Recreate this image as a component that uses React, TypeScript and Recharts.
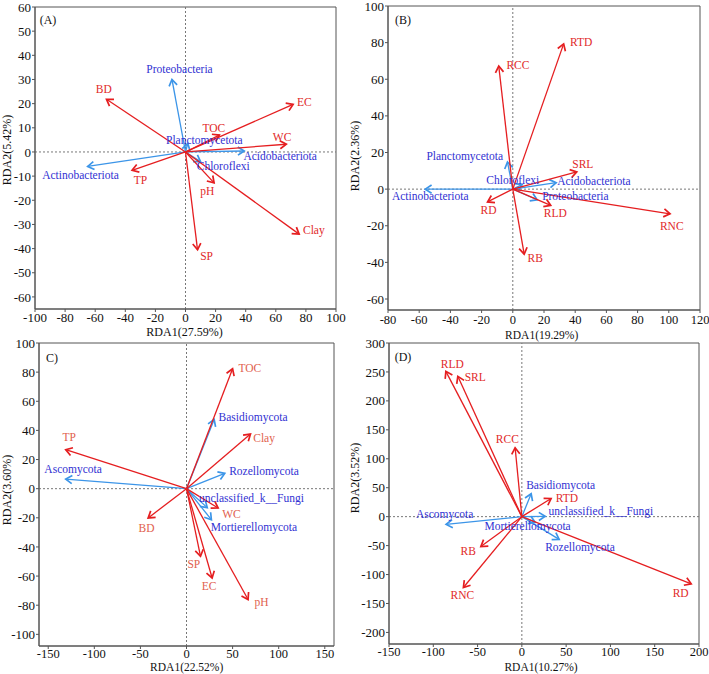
import React from 'react';
import { ScatterChart, Scatter, XAxis, YAxis, ReferenceLine, ReferenceArea } from 'recharts';

type Vec = { name: string; x: number; y: number };

const FONT = '"Liberation Serif", "Times New Roman", serif';
const RED = '#e51e20';
const BLUE = '#3c95e8';
const BLUE_TEXT = '#3131d2';
const RED_TEXT = '#e12a2a';
const SALMON_TEXT = '#e1614e';

// ---------- Panel A ----------
const envA: Vec[] = [
  { name: 'BD', x: -52.5, y: 21.8 },
  { name: 'EC', x: 71.5, y: 19.7 },
  { name: 'TOC', x: 22.5, y: 7 },
  { name: 'WC', x: 67, y: 3.2 },
  { name: 'TP', x: -35.5, y: -7.6 },
  { name: 'pH', x: 19, y: -12.8 },
  { name: 'Clay', x: 75.5, y: -34 },
  { name: 'SP', x: 8, y: -40.5 },
];
const taxaA: Vec[] = [
  { name: 'Proteobacteria', x: -9, y: 30 },
  { name: 'Planctomycetota', x: 1.5, y: 3.5 },
  { name: 'Acidobacteriota', x: 39, y: 0.4 },
  { name: 'Chloroflexi', x: 10, y: -4 },
  { name: 'Actinobacteriota', x: -65, y: -6 },
];
const envLabelsA: Vec[] = [
  { name: 'BD', x: -54.3, y: 25.9 },
  { name: 'EC', x: 79, y: 20.6 },
  { name: 'TOC', x: 18.8, y: 10.1 },
  { name: 'WC', x: 64.2, y: 6.2 },
  { name: 'TP', x: -30, y: -11.4 },
  { name: 'pH', x: 14.4, y: -16.2 },
  { name: 'Clay', x: 85.3, y: -32.4 },
  { name: 'SP', x: 14, y: -43.2 },
];
const taxaLabelsA: Vec[] = [
  { name: 'Proteobacteria', x: -4, y: 34.2 },
  { name: 'Planctomycetota', x: 12.5, y: 5.1 },
  { name: 'Acidobacteriota', x: 62.9, y: -1.5 },
  { name: 'Chloroflexi', x: 25.1, y: -5.9 },
  { name: 'Actinobacteriota', x: -69.8, y: -9.6 },
];
const xTicksA = [-100, -80, -60, -40, -20, 0, 20, 40, 60, 80, 100];
const yTicksA = [-60, -50, -40, -30, -20, -10, 0, 10, 20, 30, 40, 50, 60];

// ---------- Panel B ----------
const envB: Vec[] = [
  { name: 'RTD', x: 32.6, y: 79.3 },
  { name: 'RCC', x: -9, y: 67.2 },
  { name: 'SRL', x: 41, y: 9.4 },
  { name: 'RNC', x: 100.8, y: -13.5 },
  { name: 'RB', x: 7.3, y: -35.5 },
  { name: 'RD', x: -16.2, y: -7 },
  { name: 'RLD', x: 24.3, y: -8.9 },
];
const taxaB: Vec[] = [
  { name: 'Planctomycetota', x: -3.4, y: 14.8 },
  { name: 'Chloroflexi', x: 6, y: 2.5 },
  { name: 'Acidobacteriota', x: 27.8, y: 3.5 },
  { name: 'Proteobacteria', x: 15.6, y: -5.8 },
  { name: 'Actinobacteriota', x: -56.1, y: 0 },
];
const envLabelsB: Vec[] = [
  { name: 'RTD', x: 43.8, y: 80.5 },
  { name: 'RCC', x: 3.3, y: 67.7 },
  { name: 'SRL', x: 44.9, y: 13.9 },
  { name: 'RNC', x: 101.9, y: -20.2 },
  { name: 'RB', x: 14.4, y: -37.6 },
  { name: 'RD', x: -15.6, y: -11.3 },
  { name: 'RLD', x: 27.2, y: -13.1 },
];
const taxaLabelsB: Vec[] = [
  { name: 'Planctomycetota', x: -30.8, y: 18.1 },
  { name: 'Chloroflexi', x: 0, y: 5.1 },
  { name: 'Acidobacteriota', x: 52, y: 4.2 },
  { name: 'Proteobacteria', x: 40.1, y: -3.5 },
  { name: 'Actinobacteriota', x: -52.9, y: -4 },
];
const xTicksB = [-80, -60, -40, -20, 0, 20, 40, 60, 80, 100, 120];
const yTicksB = [-60, -40, -20, 0, 20, 40, 60, 80, 100];

// ---------- Panel C ----------
const envC: Vec[] = [
  { name: 'TOC', x: 50, y: 82.3 },
  { name: 'Clay', x: 69.4, y: 37.5 },
  { name: 'TP', x: -131, y: 26.8 },
  { name: 'BD', x: -41.6, y: -20.1 },
  { name: 'WC', x: 34.3, y: -13.3 },
  { name: 'SP', x: 15.2, y: -46.4 },
  { name: 'EC', x: 27.8, y: -61.3 },
  { name: 'pH', x: 66.8, y: -76.1 },
];
const taxaC: Vec[] = [
  { name: 'Basidiomycota', x: 30, y: 47.5 },
  { name: 'Rozellomycota', x: 41.5, y: 10.5 },
  { name: 'Ascomycota', x: -131, y: 6.6 },
  { name: 'unclassified_k__Fungi', x: 22.5, y: -13 },
  { name: 'Mortierellomycota', x: 27, y: -21.3 },
];
const envLabelsC: Vec[] = [
  { name: 'TOC', x: 68.7, y: 82.8 },
  { name: 'Clay', x: 84.2, y: 34.8 },
  { name: 'TP', x: -127.3, y: 35.2 },
  { name: 'BD', x: -43.4, y: -27 },
  { name: 'WC', x: 48.8, y: -17.4 },
  { name: 'SP', x: 7.9, y: -51.7 },
  { name: 'EC', x: 24.5, y: -67 },
  { name: 'pH', x: 81.3, y: -77.7 },
];
const taxaLabelsC: Vec[] = [
  { name: 'Basidiomycota', x: 72.2, y: 48.9 },
  { name: 'Rozellomycota', x: 84, y: 11.9 },
  { name: 'Ascomycota', x: -123, y: 13.5 },
  { name: 'unclassified_k__Fungi', x: 70.5, y: -6.4 },
  { name: 'Mortierellomycota', x: 73.2, y: -26.5 },
];
const xTicksC = [-150, -100, -50, 0, 50, 100, 150];
const yTicksC = [-100, -80, -60, -40, -20, 0, 20, 40, 60, 80, 100];

// ---------- Panel D ----------
const envD: Vec[] = [
  { name: 'RLD', x: -85.8, y: 251 },
  { name: 'SRL', x: -72.3, y: 242.4 },
  { name: 'RCC', x: -7.6, y: 119 },
  { name: 'RTD', x: 33, y: 31.4 },
  { name: 'RB', x: -46.3, y: -51.7 },
  { name: 'RNC', x: -66, y: -122.4 },
  { name: 'RD', x: 191.2, y: -116 },
];
const taxaD: Vec[] = [
  { name: 'Basidiomycota', x: 10.5, y: 39.6 },
  { name: 'Ascomycota', x: -85.5, y: -13.4 },
  { name: 'unclassified_k__Fungi', x: 26.3, y: 0.5 },
  { name: 'Mortierellomycota', x: 15, y: -10 },
  { name: 'Rozellomycota', x: 42.1, y: -39.2 },
];
const envLabelsD: Vec[] = [
  { name: 'RLD', x: -78.5, y: 264.5 },
  { name: 'SRL', x: -52.7, y: 241.4 },
  { name: 'RCC', x: -16.4, y: 135 },
  { name: 'RTD', x: 50.8, y: 32.8 },
  { name: 'RB', x: -60.6, y: -59 },
  { name: 'RNC', x: -67.2, y: -136 },
  { name: 'RD', x: 179.3, y: -132 },
];
const taxaLabelsD: Vec[] = [
  { name: 'Basidiomycota', x: 43.8, y: 54.7 },
  { name: 'Ascomycota', x: -87.2, y: 4.7 },
  { name: 'unclassified_k__Fungi', x: 89.2, y: 10.3 },
  { name: 'Mortierellomycota', x: 6.5, y: -16 },
  { name: 'Rozellomycota', x: 65.6, y: -51.7 },
];
const xTicksD = [-150, -100, -50, 0, 50, 100, 150, 200];
const yTicksD = [-200, -150, -100, -50, 0, 50, 100, 150, 200, 250, 300];

const arrowShape = (color: string) => (props: any) => {
  const { x1, y1, x2, y2 } = props;
  const ang = Math.atan2(y2 - y1, x2 - x1);
  const L = 7.5;
  const a = Math.PI / 5.5;
  const ax = x2 - L * Math.cos(ang - a);
  const ay = y2 - L * Math.sin(ang - a);
  const bx = x2 - L * Math.cos(ang + a);
  const by = y2 - L * Math.sin(ang + a);
  return (
    <g>
      <line x1={x1} y1={y1} x2={x2} y2={y2} stroke={color} strokeWidth={1.3} />
      <polyline points={`${ax},${ay} ${x2},${y2} ${bx},${by}`} fill="none" stroke={color} strokeWidth={1.7} />
    </g>
  );
};

const textShape = (color: string) => (props: any) => (
  <text
    x={props.cx}
    y={props.cy}
    textAnchor="middle"
    dominantBaseline="central"
    fill={color}
    fontSize={11.5}
    fontFamily={FONT}
  >
    {props.payload.name}
  </text>
);

type Cfg = {
  left: number; top: number; width: number; height: number;
  margin: { top: number; right: number; left: number; bottom: number };
  yAxisWidth: number; xAxisHeight: number; xTickMargin: number; xTickFont: number; titleFont: number;
  xDomain: [number, number]; yDomain: [number, number];
  xTicks: number[]; yTicks: number[];
  env: Vec[]; taxa: Vec[]; envLabels: Vec[]; taxaLabels: Vec[];
  envText: string;
  xTitle: string; yTitle: string; tag: string;
  xTitlePos: [number, number]; yTitlePos: [number, number]; tagPos: [number, number];
};

function Panel({ c }: { c: Cfg }) {
  const yTickStyle = { fontSize: 13, fill: '#111', fontFamily: FONT };
  const xTickStyle = { fontSize: c.xTickFont, fill: '#111', fontFamily: FONT };
  return (
    <div style={{ position: 'absolute', left: c.left, top: c.top, width: c.width, height: c.height, fontFamily: FONT }}>
      <ScatterChart width={c.width} height={c.height} margin={c.margin}>
        <XAxis
          type="number" dataKey="x" domain={c.xDomain} ticks={c.xTicks} allowDataOverflow interval={0}
          height={c.xAxisHeight} tickSize={3} tickMargin={c.xTickMargin}
          axisLine={{ stroke: '#555' }} tickLine={{ stroke: '#555' }} tick={xTickStyle}
        />
        <YAxis
          type="number" dataKey="y" domain={c.yDomain} ticks={c.yTicks} allowDataOverflow interval={0}
          width={c.yAxisWidth} tickSize={3} tickMargin={1}
          axisLine={{ stroke: '#555' }} tickLine={{ stroke: '#555' }} tick={yTickStyle}
        />
        <ReferenceArea
          x1={c.xDomain[0]} x2={c.xDomain[1]} y1={c.yDomain[0]} y2={c.yDomain[1]}
          fill="none" fillOpacity={0} stroke="#555" strokeWidth={1} ifOverflow="visible"
        />
        <ReferenceLine x={0} stroke="#777" strokeDasharray="2 2" />
        <ReferenceLine y={0} stroke="#777" strokeDasharray="2 2" />
        {c.taxa.map((v) => (
          <ReferenceLine
            key={'t' + v.name}
            segment={[{ x: 0, y: 0 }, { x: v.x, y: v.y }]}
            ifOverflow="visible"
            shape={arrowShape(BLUE)}
          />
        ))}
        {c.env.map((v) => (
          <ReferenceLine
            key={'e' + v.name}
            segment={[{ x: 0, y: 0 }, { x: v.x, y: v.y }]}
            ifOverflow="visible"
            shape={arrowShape(RED)}
          />
        ))}
        <Scatter data={c.envLabels} isAnimationActive={false} shape={textShape(c.envText)} />
        <Scatter data={c.taxaLabels} isAnimationActive={false} shape={textShape(BLUE_TEXT)} />
      </ScatterChart>
      <div style={{ position: 'absolute', left: c.xTitlePos[0], top: c.xTitlePos[1], transform: 'translate(-50%,-50%)', fontSize: c.titleFont, lineHeight: '12px', whiteSpace: 'nowrap', color: '#111' }}>
        {c.xTitle}
      </div>
      <div style={{ position: 'absolute', left: c.yTitlePos[0], top: c.yTitlePos[1], transform: 'translate(-50%,-50%) rotate(-90deg)', fontSize: 12, lineHeight: '13px', whiteSpace: 'nowrap', color: '#111' }}>
        {c.yTitle}
      </div>
      <div style={{ position: 'absolute', left: c.tagPos[0], top: c.tagPos[1], transform: 'translate(-50%,-50%)', fontSize: 12, lineHeight: '13px', whiteSpace: 'nowrap', color: '#111' }}>
        {c.tag}
      </div>
    </div>
  );
}

const panels: Cfg[] = [
  {
    left: 0, top: 0, width: 350, height: 340,
    margin: { top: 7, right: 14, left: 0, bottom: 0 }, yAxisWidth: 35, xAxisHeight: 31, xTickMargin: 1, xTickFont: 13, titleFont: 12,
    xDomain: [-100, 100], yDomain: [-65, 60], xTicks: xTicksA, yTicks: yTicksA,
    env: envA, taxa: taxaA, envLabels: envLabelsA, taxaLabels: taxaLabelsA, envText: RED_TEXT,
    xTitle: 'RDA1(27.59%)', yTitle: 'RDA2(5.42%)', tag: '(A)',
    xTitlePos: [184.5, 332], yTitlePos: [7, 150], tagPos: [48, 20],
  },
  {
    left: 350, top: 0, width: 359, height: 340,
    margin: { top: 6, right: 9, left: 0, bottom: 0 }, yAxisWidth: 38, xAxisHeight: 30, xTickMargin: 2, xTickFont: 12.5, titleFont: 11.5,
    xDomain: [-80, 120], yDomain: [-66, 100], xTicks: xTicksB, yTicks: yTicksB,
    env: envB, taxa: taxaB, envLabels: envLabelsB, taxaLabels: taxaLabelsB, envText: RED_TEXT,
    xTitle: 'RDA1(19.29%)', yTitle: 'RDA2(2.36%)', tag: '(B)',
    xTitlePos: [191.7, 334.5], yTitlePos: [5, 156], tagPos: [53, 20],
  },
  {
    left: 0, top: 335, width: 350, height: 339,
    margin: { top: 8, right: 16, left: 0, bottom: 0 }, yAxisWidth: 39, xAxisHeight: 28, xTickMargin: 0, xTickFont: 12.5, titleFont: 11.5,
    xDomain: [-160, 160], yDomain: [-108, 100], xTicks: xTicksC, yTicks: yTicksC,
    env: envC, taxa: taxaC, envLabels: envLabelsC, taxaLabels: taxaLabelsC, envText: SALMON_TEXT,
    xTitle: 'RDA1(22.52%)', yTitle: 'RDA2(3.60%)', tag: 'C)',
    xTitlePos: [186.7, 331.5], yTitlePos: [7, 155], tagPos: [52, 23],
  },
  {
    left: 350, top: 335, width: 359, height: 339,
    margin: { top: 8, right: 10, left: 0, bottom: 0 }, yAxisWidth: 39, xAxisHeight: 30, xTickMargin: 0, xTickFont: 12.5, titleFont: 11.5,
    xDomain: [-150, 200], yDomain: [-220, 300], xTicks: xTicksD, yTicks: yTicksD,
    env: envD, taxa: taxaD, envLabels: envLabelsD, taxaLabels: taxaLabelsD, envText: RED_TEXT,
    xTitle: 'RDA1(10.27%)', yTitle: 'RDA2(3.52%)', tag: '(D)',
    xTitlePos: [191, 331.5], yTitlePos: [5, 143], tagPos: [53, 22],
  },
];

export default function App() {
  return (
    <div style={{ position: 'absolute', left: 0, top: 0, width: 709, height: 674, background: '#fff', overflow: 'hidden' }}>
      {panels.map((p) => (
        <Panel key={p.tag} c={p} />
      ))}
    </div>
  );
}
